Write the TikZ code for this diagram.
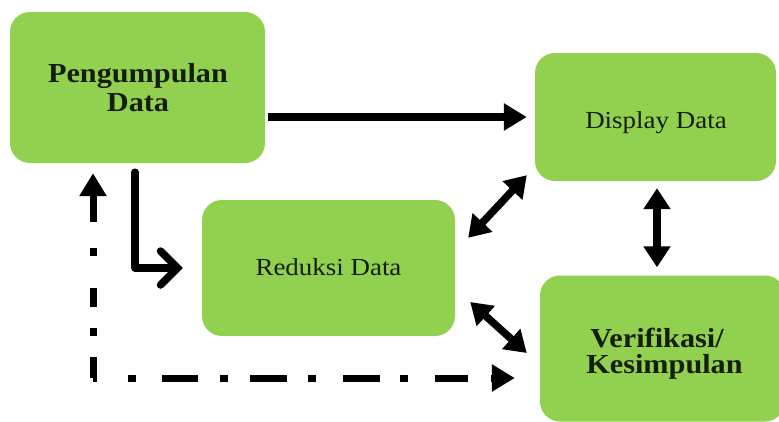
\documentclass[tikz,border=0pt]{standalone}
\usepackage{fontspec}
\setmainfont[FakeStretch=1.1]{Liberation Serif}
\usetikzlibrary{arrows.meta}
\definecolor{boxgreen}{RGB}{146,208,80}
\definecolor{txt}{RGB}{20,30,12}
\begin{document}
\begin{tikzpicture}[x=1pt,y=-1pt,
  box/.style={fill=boxgreen, draw=none, rounded corners=20pt, inner sep=0pt},
  lbl/.style={text=txt, inner sep=0pt, anchor=base},
  bigtxt/.style={lbl, font=\bfseries\fontsize{27.5}{30}\selectfont},
  smalltxt/.style={lbl, font=\fontsize{24.5}{28}\selectfont},
  heavy/.style={line width=7.5pt, -{Triangle[length=23pt,width=26pt]}},
  both/.style={line width=7.5pt, {Triangle[length=21pt,width=26pt]}-{Triangle[length=21pt,width=26pt]}},
]
\clip (0,0) rectangle (779,421);
% boxes
\node[box, minimum width=255pt, minimum height=151pt] (pd) at (137.5,87.5) {};
\node[box, minimum width=241pt, minimum height=128pt] (dd) at (655.5,117) {};
\node[box, minimum width=253pt, minimum height=136pt] (rd) at (328.5,268) {};
\node[box, minimum width=245pt, minimum height=146pt] (vk) at (662.5,348.5) {};
% texts
\node[bigtxt] (pd1) at (138,82) {Pengumpulan};
\node[bigtxt] (pd2) at (138,111) {Data};
\node[smalltxt] (dd1) at (656,128) {Display Data};
\node[smalltxt] (rd1) at (328.5,275) {Reduksi Data};
\node[bigtxt] (vk1) at (657,347) {Verifikasi/};
\node[bigtxt] (vk2) at (664.5,373) {Kesimpulan};
% arrows
\draw[heavy, shorten <=3pt, shorten >=8pt] (pd.east |- dd.west) -- (dd.west);
\draw[line width=7.5pt, line join=round, line cap=round,
      -{Straight Barb[length=17pt,width=34pt,line cap=round]}, shorten <=9pt, shorten >=19pt]
      ([xshift=-2.5pt]pd.south) |- (rd.west);
\draw[both] ([shift={(13pt,-38pt)}]rd.north east) -- ([shift={(-8pt,6pt)}]dd.south west);
\draw[both] ([shift={(15pt,-34pt)}]rd.east) -- ([shift={(-13pt,-4.5pt)}]vk.west);
\draw[both, shorten <=7pt, shorten >=8pt] ([xshift=1.5pt]dd.south) -- ([xshift=1.5pt]dd.south |- vk.north);
% dash-dot feedback
\coordinate (corner) at (93,378);
\draw[line width=7pt, dash pattern=on 21pt off 21pt on 8pt off 21pt on 19pt off 32pt on 8pt off 200pt]
  (corner) -- (93,240);
\draw[heavy, line width=7pt, shorten >=10pt] (93,222) -- (pd.south -| corner);
\draw[line width=7pt, dash pattern=on 4pt off 31pt on 8pt off 26pt on 36pt off 22pt on 8pt off 22pt on 37pt off 21pt on 8pt off 27pt on 37pt off 20pt on 8pt off 27pt on 33pt off 300pt]
  (corner) -- (480,378);
\draw[heavy, line width=7pt, shorten >=25pt] (491,378) -- (vk.west |- corner);
\end{tikzpicture}
\end{document}
